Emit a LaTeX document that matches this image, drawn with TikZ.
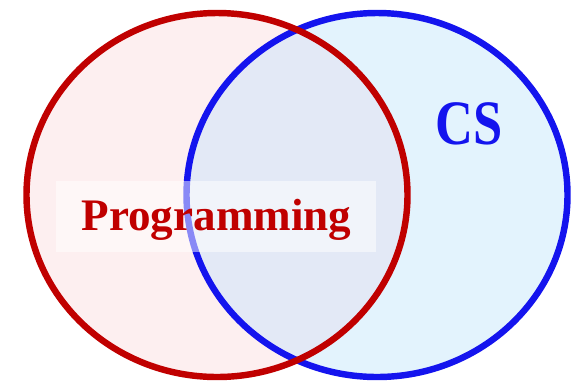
\documentclass[tikz,border=0pt]{standalone}
\usepackage{fontspec}
\setmainfont{Liberation Serif}
\usepackage{xcolor}
\usepackage{tikz}
\definecolor{progred}{HTML}{C00000}
\definecolor{progfill}{HTML}{FDEFF0}
\definecolor{csblue}{HTML}{1414EE}
\definecolor{csfill}{HTML}{E3F3FD}
\definecolor{both}{HTML}{E3E9F6}
\tikzset{
  setline/.style={line width=5.5pt},
  labbox/.style={fill=white, fill opacity=0.5, inner sep=0pt,
    minimum width=9.6cm, minimum height=2.13cm},
  labp/.style={text=progred, font=\fontsize{38.5}{42}\selectfont\bfseries, anchor=base},
  labcs/.style={text=csblue, font=\fontsize{54}{58}\selectfont\bfseries, anchor=base, xscale=0.83, transform shape}
}
\begin{document}
\begin{tikzpicture}[x=0.03cm,y=-0.03cm]
  \useasboundingbox (0,0) rectangle (571,381);
  \coordinate (P) at (217,195);
  \coordinate (C) at (377,195);

  % fills
  \fill[csfill] (C) ellipse [x radius=190.5, y radius=182];
  \fill[progfill] (P) ellipse [x radius=190.5, y radius=182];
  \begin{scope}
    \clip (P) ellipse [x radius=190.5, y radius=182];
    \fill[both] (C) ellipse [x radius=190.5, y radius=182];
  \end{scope}

  % borders
  \draw[setline, csblue] (C) ellipse [x radius=190.5, y radius=182];
  \draw[setline, progred] (P) ellipse [x radius=190.5, y radius=182];

  \node[labbox] (progbox) at (216,216.5) {};
  \node[labp] (prog) at (216.5,230.5) {Programming};
  \node[labcs] (cs) at (469.5,144) {CS};
\end{tikzpicture}
\end{document}
